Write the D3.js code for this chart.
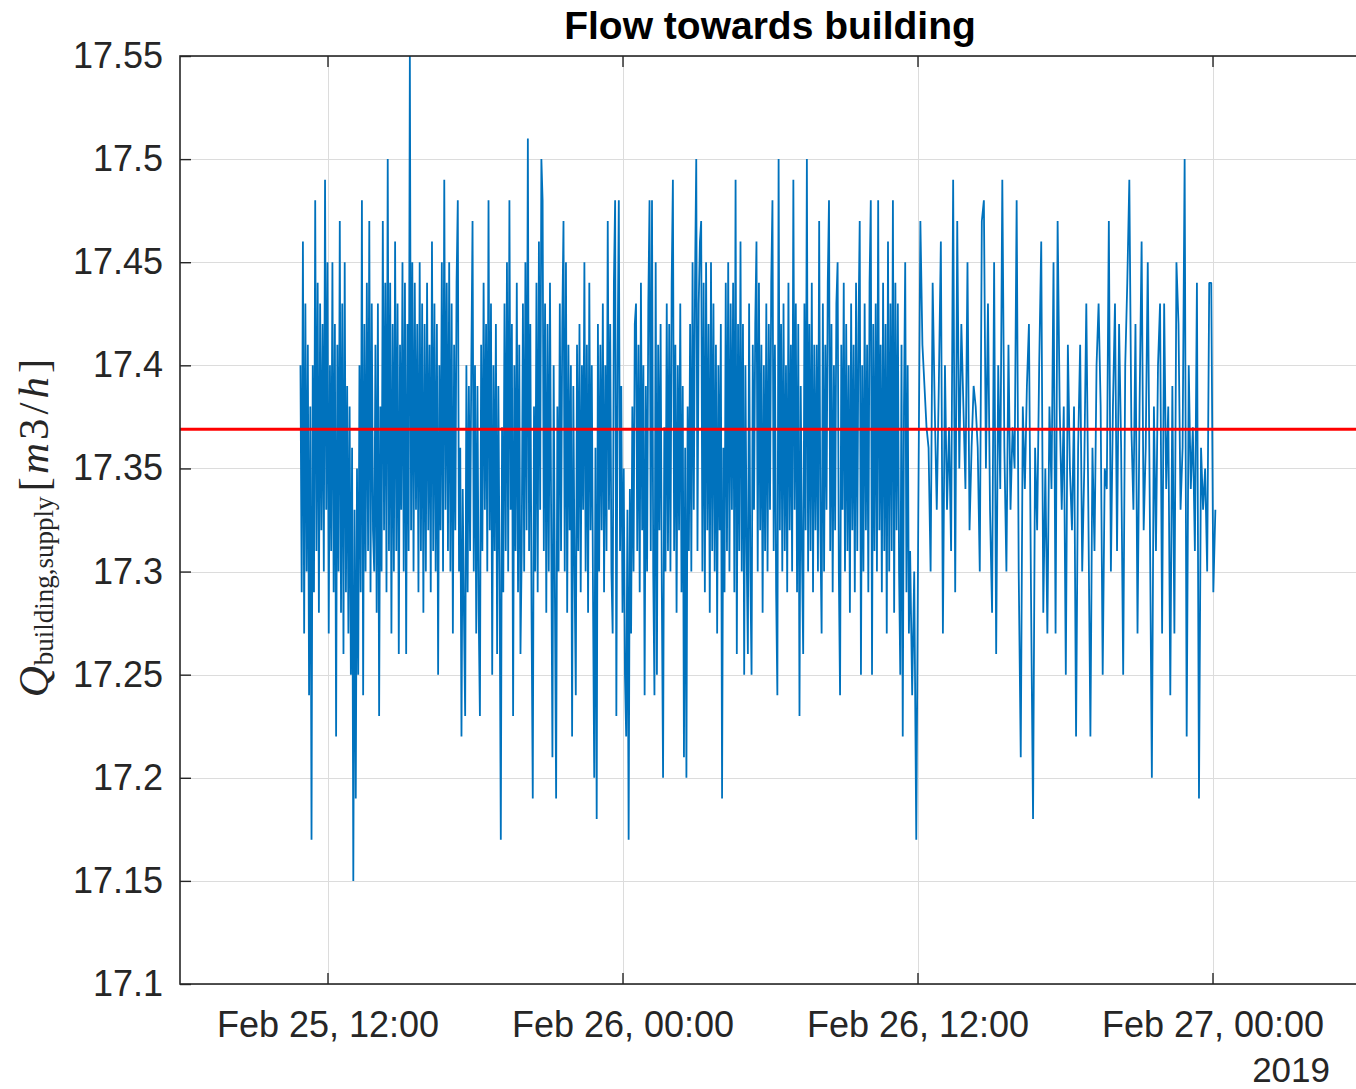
<!DOCTYPE html>
<html>
<head>
<meta charset="utf-8">
<script src="https://cdn.jsdelivr.net/npm/d3@7"></script>
<style>
  html, body { margin: 0; padding: 0; background: #ffffff; overflow: hidden; }
  svg { display: block; }
</style>
</head>
<body>
<svg id="chart" width="1356" height="1089"></svg>
<script>
// Supply flow towards the building [m3/h], logged every 3 minutes (dense part)
// and every 5 minutes (later part). Each block below covers consecutive samples.
const denseStart = new Date(2019, 1, 25, 10, 54);
const denseStepMinutes = 3;

const flow_25_1054 = [17.40,17.29,17.46,17.27,17.43,17.30,17.41,17.24,17.38,17.17,
  17.40,17.29,17.48,17.31,17.44,17.28,17.43,17.32,17.42,17.30,
  17.49,17.33,17.45,17.27,17.40,17.31,17.45,17.29,17.42,17.22,
  17.41,17.30,17.47,17.28,17.43,17.26,17.45,17.29,17.39,17.27,
  17.38,17.25,17.36,17.15,17.33,17.19,17.35,17.25,17.40,17.29,
  17.48,17.24,17.42,17.30,17.44,17.31,17.47,17.29,17.43,17.32];

const flow_25_1354 = [17.30,17.41,17.28,17.43,17.23,17.38,17.30,17.47,17.32,17.44,
  17.29,17.50,17.31,17.44,17.27,17.42,17.30,17.46,17.31,17.43,
  17.26,17.41,17.33,17.45,17.30,17.44,17.26,17.42,17.31,17.55,
  17.32,17.45,17.30,17.44,17.33,17.42,17.29,17.45,17.31,17.43,
  17.28,17.42,17.30,17.44,17.32,17.41,17.29,17.46,17.31,17.43,
  17.30,17.42,17.25,17.40,17.32,17.45,17.30,17.49,17.33,17.44];

const flow_25_1654 = [17.31,17.45,17.30,17.43,17.27,17.41,17.32,17.44,17.48,17.30,
  17.36,17.22,17.34,17.28,17.23,17.40,17.29,17.39,17.31,17.40,
  17.47,17.30,17.40,17.27,17.39,17.28,17.23,17.41,17.31,17.44,
  17.33,17.42,17.30,17.48,17.32,17.43,17.25,17.40,17.31,17.42,
  17.26,17.39,17.30,17.17,17.37,17.29,17.43,17.31,17.45,17.30,
  17.48,17.33,17.42,17.23,17.40,17.31,17.44,17.29,17.41,17.26];

const flow_25_1954 = [17.31,17.43,17.30,17.45,17.32,17.51,17.31,17.42,17.28,17.19,
  17.38,17.30,17.44,17.29,17.46,17.33,17.50,17.48,17.31,17.43,
  17.28,17.42,17.30,17.44,17.32,17.21,17.40,17.29,17.19,17.38,
  17.30,17.43,17.31,17.42,17.47,17.30,17.45,17.28,17.41,17.32,
  17.40,17.22,17.39,17.30,17.24,17.41,17.31,17.42,17.29,17.40,
  17.33,17.45,17.30,17.41,17.28,17.44,17.32,17.40,17.29,17.20];

const flow_25_2254 = [17.36,17.18,17.42,17.30,17.41,17.32,17.43,17.29,17.40,17.31,
  17.47,17.33,17.42,17.30,17.27,17.44,17.48,17.23,17.40,17.48,
  17.31,17.39,17.28,17.35,17.25,17.22,17.33,17.17,17.34,17.27,
  17.38,17.30,17.42,17.43,17.31,17.41,17.29,17.44,17.32,17.40,
  17.24,17.39,17.30,17.43,17.48,17.31,17.48,17.30,17.24,17.45,
  17.25,17.41,17.32,17.42,17.29,17.20,17.37,17.30,17.43,17.31];

const flow_26_0154 = [17.42,17.30,17.44,17.49,17.31,17.41,17.28,17.40,17.32,17.43,
  17.29,17.39,17.21,17.36,17.20,17.38,17.31,17.42,17.30,17.45,
  17.33,17.44,17.50,17.31,17.43,17.46,17.47,17.30,17.44,17.29,
  17.45,17.32,17.42,17.28,17.45,17.31,17.43,17.30,17.41,17.27,
  17.40,17.32,17.42,17.19,17.36,17.29,17.44,17.31,17.45,17.30,
  17.43,17.33,17.44,17.29,17.49,17.26,17.42,17.31,17.46,17.30];

const flow_26_0454 = [17.42,17.25,17.40,17.31,17.26,17.43,17.30,17.25,17.41,17.33,
  17.42,17.46,17.30,17.44,17.32,17.41,17.28,17.40,17.31,17.43,
  17.30,17.42,17.33,17.44,17.48,17.31,17.41,17.29,17.24,17.50,
  17.32,17.42,17.30,17.43,17.31,17.40,17.29,17.44,17.32,17.41,
  17.30,17.49,17.33,17.43,17.29,17.42,17.23,17.39,17.31,17.26,
  17.43,17.32,17.50,17.30,17.42,17.31,17.44,17.29,17.41,17.32];

const flow_26_0754 = [17.41,17.30,17.47,17.32,17.27,17.43,17.30,17.41,17.33,17.44,
  17.48,17.31,17.42,17.29,17.40,17.32,17.43,17.45,17.30,17.24,
  17.41,17.33,17.44,17.30,17.42,17.31,17.40,17.28,17.43,17.32,
  17.41,17.29,17.44,17.31,17.42,17.47,17.25,17.40,17.30,17.43,
  17.32,17.41,17.29,17.44,17.48,17.25,17.42,17.31,17.43,17.30,
  17.48,17.32,17.41,17.29,17.44,17.31,17.42,17.27,17.46,17.30];

const flow_26_1054 = [17.43,17.31,17.48,17.28,17.44,17.32,17.43,17.30,17.25,17.41,
  17.22,17.38,17.45,17.29,17.40,17.27];

const sparseStart = new Date(2019, 1, 26, 11, 42);
const sparseStepMinutes = 5;

const flow_26_1142 = [17.31,17.24,17.30,17.17,17.33,17.47,17.41,17.39,17.37,17.36,
  17.30,17.44,17.38,17.33,17.39,17.46,17.27,17.40,17.33,17.37,
  17.31,17.49,17.29,17.47,17.35,17.42,17.38,17.34,17.45,17.32,
  17.36,17.39,17.38,17.36,17.30,17.47,17.48,17.35,17.43,17.33,
  17.28,17.45,17.26,17.40,17.34,17.49,17.36,17.30,17.41,17.33,
  17.37,17.35,17.48,17.30,17.21,17.38,17.34,17.39,17.42,17.29,
  17.18,17.36,17.32,17.40,17.46,17.28,17.35,17.27,17.38,17.34,
  17.45,17.27,17.47,17.38,17.33];

const flow_26_1757 = [17.38,17.25,17.41,17.35,17.32,17.38,17.22,17.36,17.41,17.30,
  17.35,17.43,17.33,17.22,17.36,17.31,17.40,17.43,17.38,17.25,
  17.35,17.34,17.47,17.30,17.38,17.43,17.31,17.42,17.36,17.25,
  17.40,17.44,17.49,17.37,17.33,17.42,17.27,17.38,17.46,17.32,
  17.36,17.45,17.33,17.20,17.38,17.31,17.40,17.43,17.27,17.43,
  17.34,17.38,17.24,17.39,17.27,17.45,17.42,17.33,17.36,17.50,
  17.22,17.40,17.34,17.37,17.31,17.44,17.19,17.36,17.33,17.35,
  17.30,17.44,17.44,17.29,17.33];

// Reference level (average supply flow)
const meanFlow = 17.369;

// Axis limits, ticks and labels
const axisStart = new Date(2019, 1, 25, 6, 0);
const axisEnd = new Date(2019, 1, 27, 6, 0);
const yDomain = [17.1, 17.55];
const yTickValues = [17.1, 17.15, 17.2, 17.25, 17.3, 17.35, 17.4, 17.45, 17.5, 17.55];
const yTickLabels = ["17.1", "17.15", "17.2", "17.25", "17.3", "17.35", "17.4", "17.45", "17.5", "17.55"];
const xTickDates = [new Date(2019, 1, 25, 12, 0), new Date(2019, 1, 26, 0, 0),
                    new Date(2019, 1, 26, 12, 0), new Date(2019, 1, 27, 0, 0)];
const xTickLabels = ["Feb 25, 12:00", "Feb 26, 00:00", "Feb 26, 12:00", "Feb 27, 00:00"];
const yearLabel = "2019";
const titleText = "Flow towards building";

// ---- layout ----
const plot = { left: 180, top: 56, right: 1360, bottom: 984 };
const axisColor = "#262626";
const sansFont = "'Liberation Sans', Arial, Helvetica, sans-serif";
const serifFont = "'Liberation Serif', 'Times New Roman', serif";

const svg = d3.select("#chart");

const x = d3.scaleTime().domain([axisStart, axisEnd]).range([plot.left, plot.right]);
const y = d3.scaleLinear().domain(yDomain).range([plot.bottom, plot.top]);

function expand(blocks, start, stepMinutes) {
  const out = [];
  let k = 0;
  blocks.forEach(block => block.forEach(v => {
    out.push({ t: new Date(start.getTime() + k * stepMinutes * 60000), v: v });
    k++;
  }));
  return out;
}

const series = expand(
  [flow_25_1054, flow_25_1354, flow_25_1654, flow_25_1954, flow_25_2254,
   flow_26_0154, flow_26_0454, flow_26_0754, flow_26_1054],
  denseStart, denseStepMinutes
).concat(expand([flow_26_1142, flow_26_1757], sparseStart, sparseStepMinutes));

svg.append("defs").append("clipPath").attr("id", "plot-clip")
  .append("rect")
  .attr("x", plot.left).attr("y", plot.top)
  .attr("width", plot.right - plot.left).attr("height", plot.bottom - plot.top);

// grid
const grid = svg.append("g").attr("stroke", "#dcdcdc").attr("stroke-width", 1);
grid.selectAll("line.gy").data(yTickValues).join("line")
  .attr("class", "gy")
  .attr("x1", plot.left).attr("x2", plot.right)
  .attr("y1", d => Math.round(y(d)) + 0.5).attr("y2", d => Math.round(y(d)) + 0.5);
grid.selectAll("line.gx").data(xTickDates).join("line")
  .attr("class", "gx")
  .attr("y1", plot.top).attr("y2", plot.bottom)
  .attr("x1", d => Math.round(x(d)) + 0.5).attr("x2", d => Math.round(x(d)) + 0.5);

// data line
const line = d3.line().x(d => x(d.t)).y(d => y(d.v));
svg.append("path")
  .datum(series)
  .attr("clip-path", "url(#plot-clip)")
  .attr("fill", "none")
  .attr("stroke", "#0072BD")
  .attr("stroke-width", 1.8)
  .attr("stroke-linejoin", "bevel")
  .attr("d", line);

// mean level
svg.append("line")
  .attr("x1", plot.left).attr("x2", plot.right)
  .attr("y1", y(meanFlow)).attr("y2", y(meanFlow))
  .attr("stroke", "#ff0000").attr("stroke-width", 3);

// axes (ticks pointing inward, box drawn separately)
const yAxis = d3.axisLeft(y)
  .tickValues(yTickValues)
  .tickFormat((d, i) => yTickLabels[i])
  .tickSizeInner(-11).tickSizeOuter(0).tickPadding(17);
const gY = svg.append("g").attr("transform", `translate(${plot.left},0)`).call(yAxis);

const xAxis = d3.axisBottom(x)
  .tickValues(xTickDates)
  .tickFormat((d, i) => xTickLabels[i])
  .tickSizeInner(-11).tickSizeOuter(0).tickPadding(27);
const gX = svg.append("g").attr("transform", `translate(0,${plot.bottom})`).call(xAxis);

const xAxisTop = d3.axisTop(x).tickValues(xTickDates).tickFormat("")
  .tickSizeInner(-11).tickSizeOuter(0);
const gXT = svg.append("g").attr("transform", `translate(0,${plot.top})`).call(xAxisTop);

[gY, gX, gXT].forEach(g => {
  g.select(".domain").remove();
  g.selectAll(".tick line").attr("stroke", axisColor).attr("stroke-width", 1.4);
  g.selectAll(".tick text")
    .attr("fill", axisColor)
    .style("font-family", sansFont)
    .style("font-size", "36px");
});

// axes box
svg.append("rect")
  .attr("x", plot.left).attr("y", plot.top)
  .attr("width", plot.right - plot.left).attr("height", plot.bottom - plot.top)
  .attr("fill", "none").attr("stroke", axisColor).attr("stroke-width", 1.6);

// year under the time axis
svg.append("text")
  .attr("x", 1330).attr("y", 1082)
  .attr("text-anchor", "end")
  .attr("fill", axisColor)
  .style("font-family", sansFont).style("font-size", "35px")
  .text(yearLabel);

// title
svg.append("text")
  .attr("x", (plot.left + plot.right) / 2).attr("y", 39)
  .attr("text-anchor", "middle")
  .attr("fill", "#000")
  .style("font-family", sansFont).style("font-size", "39px").style("font-weight", "bold")
  .text(titleText);

// y-axis label: Q_{building,supply} [m3/h]
const yLabel = svg.append("text")
  .attr("transform", `translate(48,528) rotate(-90)`)
  .attr("text-anchor", "middle")
  .attr("fill", "#262626")
  .style("font-family", serifFont);
yLabel.append("tspan").style("font-style", "italic").style("font-size", "43px").text("Q");
yLabel.append("tspan").style("font-size", "27px").attr("dy", 5).attr("dx", 1).text("building,supply");
yLabel.append("tspan").style("font-size", "43px").attr("dy", -5).attr("dx", 5).text("[");
yLabel.append("tspan").style("font-size", "43px").style("font-style", "italic").attr("dx", 3).text("m");
yLabel.append("tspan").style("font-size", "43px").attr("dx", 3).text("3");
yLabel.append("tspan").style("font-size", "43px").attr("dx", 4).text("/");
yLabel.append("tspan").style("font-size", "43px").style("font-style", "italic").attr("dx", 4).text("h");
yLabel.append("tspan").style("font-size", "43px").attr("dx", 4).text("]");
</script>
</body>
</html>
